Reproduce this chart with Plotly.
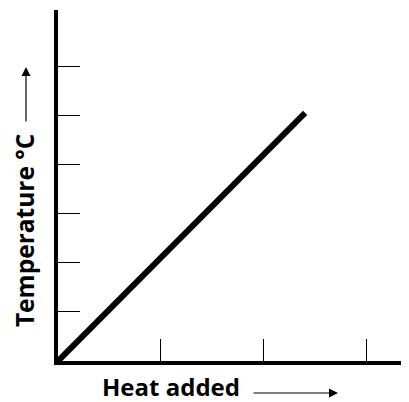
import plotly.graph_objects as go

# Data (arbitrary units)
heat = [0, 2.4]
temperature = [0, 5.06]
x_ticks = [1, 2, 3]
y_ticks = [1, 2, 3, 4, 5, 6]
x_title = "Heat added"
y_title = "Temperature °C"

FONT = "Open Sans"
OFF = 8  # page body margin offset

fig = go.Figure()
fig.add_trace(go.Scatter(
    x=heat, y=temperature, mode="lines",
    line=dict(color="black", width=6),
    cliponaxis=False, hoverinfo="skip", showlegend=False,
))

axis_common = dict(
    showline=True, linecolor="black", linewidth=4,
    showgrid=False, zeroline=False,
    ticks="inside", ticklen=22, tickwidth=1.3, tickcolor="black",
    showticklabels=False,
)
fig.update_xaxes(range=[0, 3.37], tickvals=x_ticks, **axis_common)
fig.update_yaxes(range=[0, 7.16], tickvals=y_ticks, **axis_common)

fig.update_layout(
    width=409 - OFF, height=402 - OFF,
    margin=dict(l=58 - OFF, r=4, t=10 - OFF, b=41, pad=0),
    paper_bgcolor="white", plot_bgcolor="white",
    font=dict(family=FONT, color="black"),
    annotations=[
        dict(text="<b>" + x_title + "</b>", xref="paper", yref="paper",
             x=0.3256, y=-0.072, xanchor="center", yanchor="middle",
             showarrow=False, font=dict(size=24, family=FONT)),
        dict(text="<b>" + y_title + "</b>", xref="paper", yref="paper",
             x=-0.098, y=0.373, xanchor="center", yanchor="middle",
             textangle=-90, showarrow=False, font=dict(size=24.5, family=FONT)),
        dict(text="", xref="paper", yref="paper", x=0.807, y=-0.0912,
             ax=-86, ay=0, showarrow=True, arrowhead=2, arrowsize=1.5,
             arrowwidth=1.2, arrowcolor="black"),
        dict(text="", xref="paper", yref="paper", x=-0.0922, y=0.8376,
             ax=0, ay=56, showarrow=True, arrowhead=2, arrowsize=1.5,
             arrowwidth=1.2, arrowcolor="black"),
    ],
)

fig.write_html("out.html")
